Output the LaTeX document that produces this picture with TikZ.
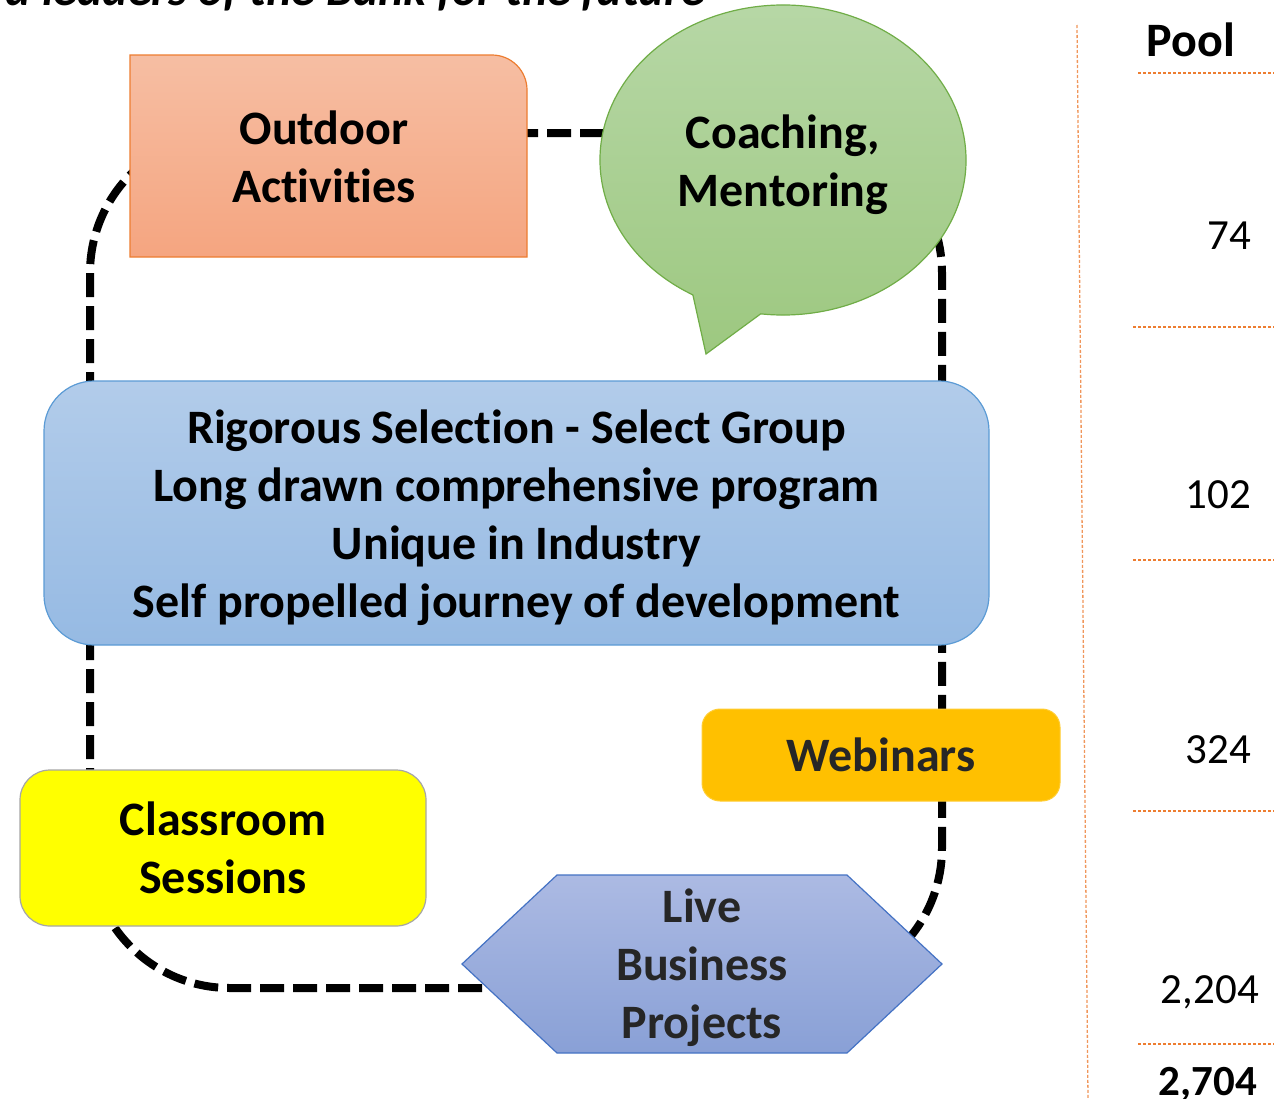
\documentclass[tikz,border=0pt]{standalone}
\usepackage{fontspec}
\setmainfont{Carlito}[Ligatures=NoCommon]
\usetikzlibrary{calc}
\definecolor{orTop}{RGB}{246,190,163}
\definecolor{orBot}{RGB}{245,165,128}
\definecolor{orLine}{RGB}{237,125,49}
\definecolor{grTop}{RGB}{184,216,168}
\definecolor{grBot}{RGB}{157,200,128}
\definecolor{grLine}{RGB}{112,173,71}
\definecolor{blTop}{RGB}{178,204,234}
\definecolor{blBot}{RGB}{150,186,227}
\definecolor{blLine}{RGB}{91,155,213}
\definecolor{webFill}{RGB}{255,192,0}
\definecolor{hxTop}{RGB}{172,186,227}
\definecolor{hxBot}{RGB}{137,160,214}
\definecolor{hxLine}{RGB}{68,114,196}
\definecolor{darkTxt}{RGB}{38,38,38}
\definecolor{poolLine}{RGB}{240,150,90}
\definecolor{pureYellow}{RGB}{255,255,0}
\tikzset{
  lbl/.style={font=\fontsize{48}{58}\selectfont\bfseries, align=center, text=black, inner sep=0pt},
  loopline/.style={line width=8pt, dash pattern=on 24pt off 9pt},
  numtxt/.style={font=\fontsize{43}{48}\selectfont, anchor=base east, inner sep=0pt},
  vline/.style={draw=poolLine, line width=1.3pt, dash pattern=on 3pt off 2pt},
  hline/.style={draw=orLine, line width=1.1pt, dash pattern=on 3pt off 2pt}
}
\begin{document}
\begin{tikzpicture}[x=1pt,y=-1pt]
\useasboundingbox (0,0) rectangle (1274,1098);
\clip (0,0) rectangle (1274,1098);
\fill[white] (0,0) rectangle (1274,1098);

% dashed loop behind everything
\node[draw, loopline, rounded corners=140pt, minimum width=852pt, minimum height=855pt, inner sep=0pt] (loop) at (516,560.5) {};

% cut-off title
\node[anchor=base east, inner sep=0pt, font=\fontsize{48}{56}\selectfont\bfseries\itshape] (title) at (705,5) {d leaders of the Bank for the future};

% Outdoor Activities
\path[draw=orLine, line width=1.2pt, top color=orTop, bottom color=orBot]
  (130,257) -- (130,55) -- (492,55) .. controls (511.3,55) and (527,70.7) .. (527,90) -- (527,257) -- cycle;
\node[lbl] (outdoor) at (324,157) {Outdoor\\Activities};

% Coaching bubble
\coordinate (bc) at (783,160);
\path[draw=grLine, line width=1.2pt, top color=grTop, bottom color=grBot]
  (706,354) -- ($(bc)+(240.5:183pt and 155pt)$) arc[start angle=240.5, end angle=-97, x radius=183pt, y radius=155pt] -- cycle;
\node[lbl] (coach) at (783,165) {Coaching,\\Mentoring};

% central box
\node[draw=blLine, line width=1.2pt, top color=blTop, bottom color=blBot, rounded corners=50pt, minimum width=945pt, minimum height=264pt, inner sep=0pt] (core) at (516.5,513) {};
\node[lbl] (coretext) at (516.5,518)
  {Rigorous Selection - Select Group\\Long drawn comprehensive program\\Unique in Industry\\Self propelled journey of development};

% Webinars
\node[fill=webFill, draw=webFill!80!white, line width=1pt, rounded corners=18pt, minimum width=358pt, minimum height=92pt, lbl, text=darkTxt] (web) at (881,755) {Webinars};

% Classroom Sessions
\node[fill=pureYellow, draw=black!35, line width=1.2pt, rounded corners=30pt, minimum width=406pt, minimum height=156pt, lbl] (class) at (223,848) {Classroom\\Sessions};

% Live Business Projects hexagon
\path[draw=hxLine, line width=1.2pt, top color=hxTop, bottom color=hxBot]
  (462,964) -- (557,875) -- (847,875) -- (942,964) -- (847,1053) -- (557,1053) -- cycle;
\node[lbl, text=darkTxt] (live) at (702,968) {Live\\Business\\Projects};

% Pool column
\draw[vline] (1077,25) -- (1088,1098);
\draw[hline] (1138,73) -- (1274,73);
\draw[hline] (1133,327) -- (1274,327);
\draw[hline] (1133,560) -- (1274,560);
\draw[hline] (1133,811) -- (1274,811);
\draw[hline] (1138,1044) -- (1274,1044);
\node[anchor=base, inner sep=0pt, font=\fontsize{48}{54}\selectfont\bfseries] (pool) at (1191,56) {Pool};
\node[numtxt] (n1) at (1251,249) {74};
\node[numtxt] (n2) at (1251,508) {102};
\node[numtxt] (n3) at (1251,763) {324};
\node[numtxt] (n4) at (1259,1003) {2,204};
\node[numtxt, font=\fontsize{43}{48}\selectfont\bfseries] (n5) at (1257,1095) {2,704};
\end{tikzpicture}
\end{document}
